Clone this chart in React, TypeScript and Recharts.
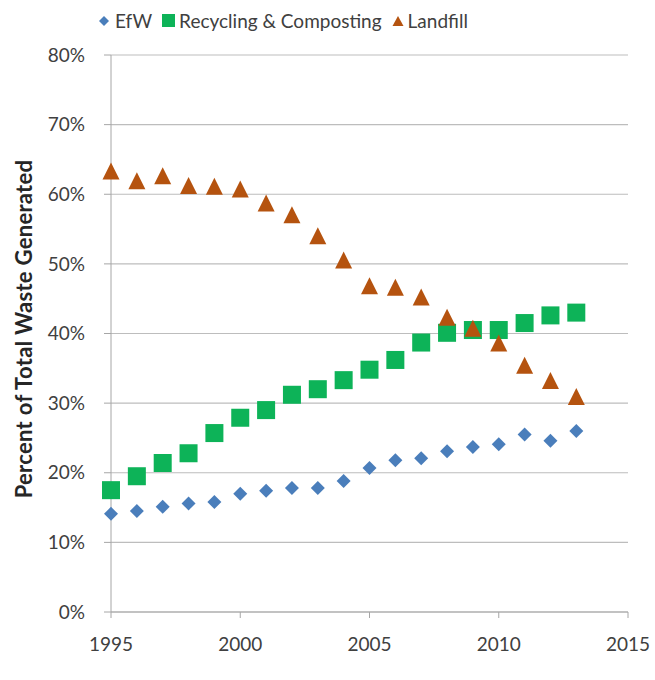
import React from 'react';
import { ScatterChart, Scatter, XAxis, YAxis, CartesianGrid } from 'recharts';

const years = [1995, 1996, 1997, 1998, 1999, 2000, 2001, 2002, 2003, 2004, 2005, 2006, 2007, 2008, 2009, 2010, 2011, 2012, 2013];
const efw = [14.1, 14.5, 15.1, 15.6, 15.8, 17.0, 17.4, 17.8, 17.8, 18.8, 20.7, 21.8, 22.1, 23.1, 23.7, 24.1, 25.5, 24.6, 26.0];
const recycling = [17.5, 19.5, 21.4, 22.8, 25.7, 27.9, 29.0, 31.2, 32.0, 33.3, 34.8, 36.2, 38.7, 40.1, 40.5, 40.5, 41.5, 42.6, 43.0];
const landfill = [63.2, 61.8, 62.5, 61.1, 61.0, 60.6, 58.6, 56.9, 53.9, 50.4, 46.7, 46.5, 45.1, 42.2, 40.6, 38.5, 35.3, 33.1, 30.8];
const xTicks = [1995, 2000, 2005, 2010, 2015];
const yTicks = [0, 10, 20, 30, 40, 50, 60, 70, 80];

const BLUE = '#4a7ebb';
const GREEN = '#0db358';
const BROWN = '#b5530f';
const TEXT = '#404040';
const FONT = 'Lato, "Open Sans", sans-serif';

const toPoints = (vals: number[]) => years.map((y, i) => ({ x: y, y: vals[i] }));

const Diamond = (props: any) => {
  const { cx, cy } = props;
  const r = 7;
  return <path d={`M${cx},${cy - r}L${cx + r},${cy}L${cx},${cy + r}L${cx - r},${cy}Z`} fill={BLUE} />;
};

const Square = (props: any) => {
  const { cx, cy } = props;
  const s = 18;
  return <rect x={cx - s / 2} y={cy - s / 2} width={s} height={s} fill={GREEN} />;
};

const Triangle = (props: any) => {
  const { cx, cy } = props;
  const w = 17;
  const h = 15;
  return <path d={`M${cx},${cy - h / 2 - 2}L${cx + w / 2},${cy + h / 2}L${cx - w / 2},${cy + h / 2}Z`} fill={BROWN} />;
};

const Legend = () => (
  <div
    style={{
      position: 'absolute',
      top: 9,
      left: 98,
      display: 'flex',
      alignItems: 'center',
      fontFamily: FONT,
      fontSize: 19,
      color: TEXT,
      whiteSpace: 'nowrap',
    }}
  >
    <svg width={12} height={12} style={{ marginRight: 5 }}>
      <path d="M6,1L11,6L6,11L1,6Z" fill={BLUE} />
    </svg>
    <span style={{ marginRight: 10 }}>EfW</span>
    <svg width={13} height={13} style={{ marginRight: 4 }}>
      <rect x={0} y={0} width={13} height={13} fill={GREEN} />
    </svg>
    <span style={{ marginRight: 10 }}>Recycling &amp; Composting</span>
    <svg width={12} height={12} style={{ marginRight: 4 }}>
      <path d="M6,1L11.5,11L0.5,11Z" fill={BROWN} />
    </svg>
    <span>Landfill</span>
  </div>
);

export default function App() {
  return (
    <div style={{ position: 'absolute', left: 0, top: 0, width: 655, height: 680, background: '#fff' }}>
      <Legend />
      <div
        style={{
          position: 'absolute',
          left: 23,
          top: 329,
          transform: 'translate(-50%, -50%) rotate(-90deg)',
          fontFamily: FONT,
          fontWeight: 700,
          fontSize: 22,
          letterSpacing: 0.3,
          color: '#262626',
          whiteSpace: 'nowrap',
        }}
      >
        Percent of Total Waste Generated
      </div>
      <ScatterChart width={655} height={680} margin={{ top: 55, right: 27, bottom: 18, left: 51 }}>
        <CartesianGrid horizontal vertical={false} stroke="#bdbdbd" strokeWidth={1.2} />
        <XAxis
          type="number"
          dataKey="x"
          domain={[1995, 2015]}
          ticks={xTicks}
          height={50}
          stroke="#a6a6a6"
          tickSize={6}
          tick={{ fill: TEXT, fontSize: 19, fontFamily: FONT }}
          tickMargin={20}
        />
        <YAxis
          type="number"
          dataKey="y"
          domain={[0, 80]}
          ticks={yTicks}
          width={60}
          stroke="#a6a6a6"
          tickSize={7}
          tickFormatter={(v: number) => `${v}%`}
          tick={{ fill: TEXT, fontSize: 19, fontFamily: FONT }}
          tickMargin={19}
        />
        <Scatter data={toPoints(efw)} shape={Diamond} isAnimationActive={false} />
        <Scatter data={toPoints(recycling)} shape={Square} isAnimationActive={false} />
        <Scatter data={toPoints(landfill)} shape={Triangle} isAnimationActive={false} />
      </ScatterChart>
    </div>
  );
}
